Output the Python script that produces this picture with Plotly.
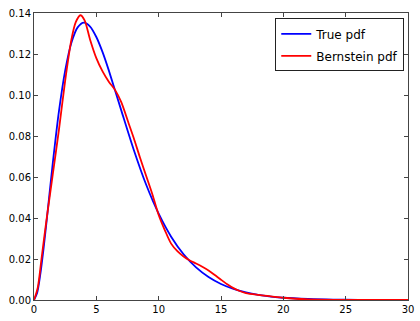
import plotly.graph_objects as go

# Sampled density curves
true_x = [0, 0.25, 0.5, 0.75, 1, 1.5, 2, 2.5, 3, 3.5, 4, 4.5, 5, 5.5, 6, 7, 8, 9, 10,
          11, 12, 13, 14, 15, 16, 17, 18, 19, 20, 22, 24, 26, 28, 30]
true_pdf = [0, 0.0034, 0.0122, 0.0242, 0.0379, 0.0664, 0.0920, 0.1119, 0.1255, 0.1330,
            0.1353, 0.1334, 0.1283, 0.1209, 0.1120, 0.0925, 0.0733, 0.0562, 0.0421,
            0.0309, 0.0223, 0.0159, 0.0112, 0.0078, 0.0054, 0.0037, 0.0025, 0.0017,
            0.0011, 0.0005, 0.0002, 0.0001, 0.00004, 0.00002]

bern_x = [0, 0.3, 0.6, 1.0, 1.5, 2.0, 2.5, 3.0, 3.35, 3.72, 4.05, 4.5, 5.0, 5.5, 6.0,
          6.5, 7.0, 7.6, 8.0, 8.5, 9.0, 9.5, 10.0, 10.5, 11.0, 11.5, 12.0, 12.5, 13.0,
          13.5, 14.0, 14.5, 15.0, 15.5, 16.0, 16.5, 17.0, 18.0, 19.0, 20.0, 21.0, 22.0,
          24.0, 26.0, 30.0]
bern_pdf = [0, 0.006, 0.020, 0.039, 0.061, 0.083, 0.107, 0.127, 0.1355, 0.1389, 0.1365,
            0.127, 0.118, 0.1115, 0.1065, 0.1025, 0.0965, 0.086, 0.079, 0.0695, 0.0605,
            0.0515, 0.0415, 0.034, 0.0275, 0.0238, 0.0212, 0.0193, 0.0178, 0.0162,
            0.0144, 0.0122, 0.0099, 0.0077, 0.0058, 0.0044, 0.0034, 0.0025, 0.0018,
            0.0011, 0.0006, 0.0003, 0.0001, 0.00005, 0]

x_ticks = [0, 5, 10, 15, 20, 25, 30]
y_ticks = [0.00, 0.02, 0.04, 0.06, 0.08, 0.10, 0.12, 0.14]

fig = go.Figure()
fig.add_trace(go.Scatter(x=true_x, y=true_pdf, mode="lines", name="True pdf",
                         legendgroup="a",
                         line=dict(color="#0000ff", width=1.8, shape="spline", smoothing=0.8)))
fig.add_trace(go.Scatter(x=bern_x, y=bern_pdf, mode="lines", name="Bernstein pdf",
                         legendgroup="b",
                         line=dict(color="#ff0000", width=1.8, shape="spline", smoothing=0.8)))

axis_style = dict(showgrid=False, zeroline=False, showline=True, linecolor="#444",
                  linewidth=1, mirror="ticks", ticks="inside", ticklen=4,
                  tickcolor="#444", tickfont=dict(family="DejaVu Sans", size=10, color="#000"))

fig.update_layout(
    width=420, height=321,
    margin=dict(l=34, r=6, t=13, b=13),
    paper_bgcolor="white", plot_bgcolor="white",
    xaxis=dict(range=[0, 30], tickvals=x_ticks, ticktext=[str(v) for v in x_ticks],
               **axis_style),
    yaxis=dict(range=[0, 0.14], tickvals=y_ticks, ticktext=[f"{v:.2f}" for v in y_ticks],
               **axis_style),
    legend=dict(x=0.99, y=0.981, xanchor="right", yanchor="top",
                bordercolor="#222", borderwidth=1, bgcolor="white",
                font=dict(family="DejaVu Sans", size=12, color="#000"),
                tracegroupgap=3, itemwidth=30),
    showlegend=True,
)

fig.write_html("out.html")
